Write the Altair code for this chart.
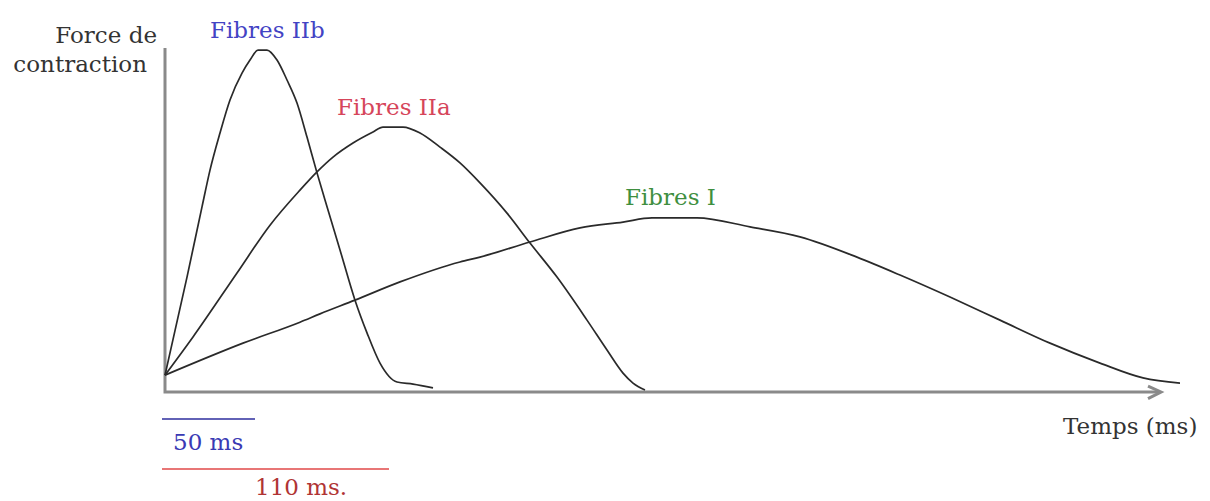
import altair as alt
import pandas as pd

# ---- data (time in ms-like units, force in arbitrary units) ----
IIB_T = [0, 11, 18.5, 22.5, 27.5, 32.5, 38.5, 42.5, 46.5, 51, 56, 61, 66, 71, 76, 80, 87.5, 95, 101, 107.5, 116, 124, 134]
IIB_F = [4.9, 33.4, 53.8, 64.5, 75.3, 84.9, 92.7, 96.5, 99.4, 99.4, 96.5, 90.7, 84.0, 74.1, 63.7, 55.8, 41.3, 26.7, 17.2, 8.4, 2.9, 2.3, 1.2]

IIA_T = [0, 14, 36, 52.5, 67.5, 76, 84, 94, 104, 109, 119, 127.5, 137.5, 147.5, 157.5, 171, 182.5, 196, 211, 221, 229, 234, 240]
IIA_F = [4.9, 16.0, 34.6, 48.5, 58.7, 64.0, 68.3, 72.4, 75.6, 77.0, 77.0, 75.3, 71.2, 66.6, 60.8, 52.0, 43.3, 33.4, 20.9, 12.2, 5.5, 2.6, 0.6]

I_T = [0, 39, 67.5, 77.5, 95, 117.5, 147.5, 157.5, 182.5, 207.5, 229, 243.5, 266, 292.5, 317.5, 346, 367.5, 392.5, 417.5, 442.5, 467.5, 489, 507.5]
I_F = [4.9, 14.2, 20.3, 22.7, 26.7, 32.0, 37.8, 39.2, 43.6, 47.7, 49.4, 50.6, 50.6, 48.0, 45.1, 39.2, 34.0, 27.6, 20.9, 14.2, 8.4, 4.1, 2.6]

AXIS_T = [0, 0, 497.5]
AXIS_F = [100, 0, 0]
ARROW_T = [491.5, 498, 491.5]
ARROW_F = [1.7, 0, -1.9]

BAR_NAMES = ["50 ms", "110 ms."]
BAR_T0 = [-1.5, -1.5]
BAR_T1 = [45, 112]
BAR_F = [-7.85, -22.4]
BAR_COLORS = ["#2e2e9e", "#e04848"]

LABELS = ["Force de", "contraction", "Fibres IIb", "Fibres IIa", "Fibres I", "Temps (ms)", "50 ms", "110 ms."]
LABEL_T = [-4, -9, 22.5, 86, 230, 449, 4, 45]
LABEL_F = [101.5, 93.0, 102.9, 80.5, 54.4, -12.2, -16.9, -29.9]
LABEL_ALIGN = ["right", "right", "left", "left", "left", "left", "left", "left"]
LABEL_COLORS = ["#333333", "#333333", "#4343c4", "#d6455a", "#3f8f3f", "#333333", "#3a3ab4", "#b03434"]

# ---- tables ----
rows = []
for name, ts, fs in [("IIb", IIB_T, IIB_F), ("IIa", IIA_T, IIA_F), ("I", I_T, I_F)]:
    for i, (t, f) in enumerate(zip(ts, fs)):
        rows.append({"serie": name, "t": t, "f": f, "o": i})
curves = pd.DataFrame(rows)

axis_rows = []
for name, ts, fs in [("axis", AXIS_T, AXIS_F), ("arrow", ARROW_T, ARROW_F)]:
    for i, (t, f) in enumerate(zip(ts, fs)):
        axis_rows.append({"part": name, "t": t, "f": f, "o": i})
axes_df = pd.DataFrame(axis_rows)

bars = pd.DataFrame({"name": BAR_NAMES, "t0": BAR_T0, "t1": BAR_T1, "f": BAR_F, "c": BAR_COLORS})
labels = pd.DataFrame({"txt": LABELS, "t": LABEL_T, "f": LABEL_F, "al": LABEL_ALIGN, "c": LABEL_COLORS})

xs = alt.Scale(domain=[-78.5, 518.5], nice=False, zero=False)
ys = alt.Scale(domain=[-109 / 3.44, 384 / 3.44], nice=False, zero=False)
X = alt.X("t:Q", scale=xs, axis=None)
Y = alt.Y("f:Q", scale=ys, axis=None)

axis_layer = alt.Chart(axes_df).mark_line(color="#8a8a8a", strokeWidth=3, clip=False).encode(
    x=X, y=Y, detail="part:N", order="o:Q"
)

curve_layer = alt.Chart(curves).mark_line(color="#2a2a2a", strokeWidth=1.7, interpolate="monotone", clip=False).encode(
    x=X, y=Y, detail="serie:N", order="o:Q"
)

bar_layer = alt.Chart(bars).mark_rule(strokeWidth=1.6).encode(
    x=alt.X("t0:Q", scale=xs, axis=None), x2="t1:Q", y=Y,
    color=alt.Color("c:N", scale=None)
)

text_common = dict(font="DejaVu Serif", fontSize=23, baseline="alphabetic")
label_layers = []
for al in ["left", "right"]:
    sub = labels[labels["al"] == al]
    label_layers.append(
        alt.Chart(sub).mark_text(align=al, **text_common).encode(
            x=X, y=Y, text="txt:N", color=alt.Color("c:N", scale=None)
        )
    )

chart = alt.layer(axis_layer, curve_layer, bar_layer, *label_layers).properties(
    width=1194, height=493,
    autosize=alt.AutoSizeParams(type="none"),
    padding={"left": 0, "top": 0, "right": 0, "bottom": 0},
    background="white",
).configure_view(stroke=None)

chart.save("out.html", embed_options={"renderer": "svg", "actions": False})
